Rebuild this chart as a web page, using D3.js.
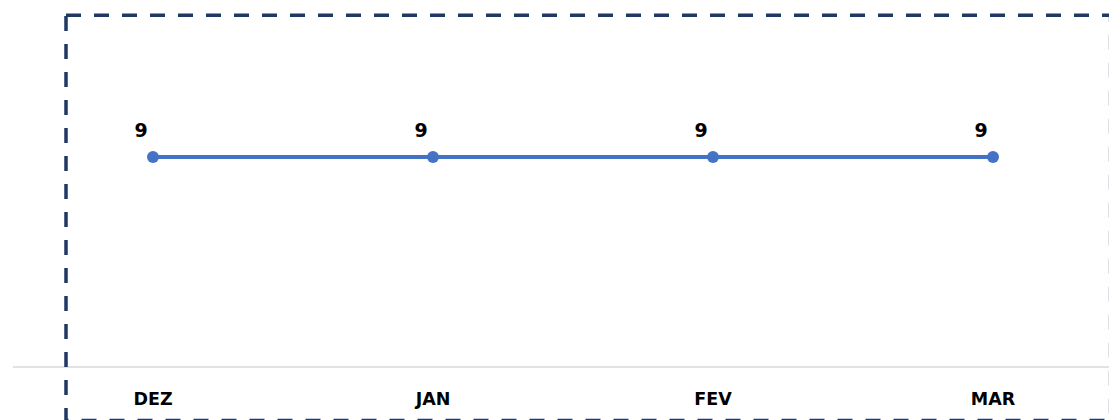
<!DOCTYPE html>
<html>
<head>
<meta charset="utf-8">
<script src="https://cdn.jsdelivr.net/npm/d3@7"></script>
<style>
  body { margin: 0; background: #fff; }
  svg { display: block; }
</style>
</head>
<body>
<div id="chart"></div>
<script>
"use strict";

var months = ["DEZ", "JAN", "FEV", "MAR"];
var values = [9, 9, 9, 9];

var width = 1109, height = 420;

var svg = d3.select("#chart")
    .append("svg")
    .attr("width", width)
    .attr("height", height);

// x scale - categories centered in bands, plot area runs past right edge
var x = d3.scaleBand()
    .domain(months)
    .range([13, 1133]);

var y = d3.scaleLinear()
    .domain([0, 12])
    .range([367, 87]);

var data = months.map((m, i) => ({month: m, value: values[i]}));

// axis line
svg.append("line")
    .attr("x1", 13)
    .attr("x2", width)
    .attr("y1", y(0))
    .attr("y2", y(0))
    .attr("stroke", "#d9d9d9")
    .attr("stroke-width", 1.5);

// month labels
svg.selectAll(".month")
    .data(data)
    .enter()
    .append("text")
    .attr("class", "month")
    .attr("x", d => x(d.month) + x.bandwidth() / 2)
    .attr("y", 405)
    .attr("text-anchor", "middle")
    .style("font-family", "'DejaVu Sans', sans-serif")
    .style("font-weight", "bold")
    .style("font-size", "17.5px")
    .attr("fill", "#000")
    .text(d => d.month);

// line
var line = d3.line()
    .x(d => x(d.month) + x.bandwidth() / 2)
    .y(d => y(d.value));

svg.append("path")
    .datum(data)
    .attr("d", line)
    .attr("fill", "none")
    .attr("stroke", "#4472c4")
    .attr("stroke-width", 4);

svg.selectAll(".dot")
    .data(data)
    .enter()
    .append("circle")
    .attr("class", "dot")
    .attr("cx", d => x(d.month) + x.bandwidth() / 2)
    .attr("cy", d => y(d.value))
    .attr("r", 6)
    .attr("fill", "#4472c4");

// value labels
svg.selectAll(".val")
    .data(data)
    .enter()
    .append("text")
    .attr("class", "val")
    .attr("x", d => x(d.month) + x.bandwidth() / 2 - 12)
    .attr("y", d => y(d.value) - 20)
    .attr("text-anchor", "middle")
    .style("font-family", "'DejaVu Sans', sans-serif")
    .style("font-weight", "bold")
    .style("font-size", "19px")
    .attr("fill", "#000")
    .text(d => d.value);

// dashed frame, right and bottom edges mostly outside the view
svg.append("rect")
    .attr("x", 66)
    .attr("y", 15.3)
    .attr("width", 1110.6 - 66)
    .attr("height", 420.6 - 15.3)
    .attr("fill", "none")
    .attr("stroke", "#1f3864")
    .attr("stroke-width", 3.5)
    .attr("stroke-dasharray", "15,13");
</script>
</body>
</html>
